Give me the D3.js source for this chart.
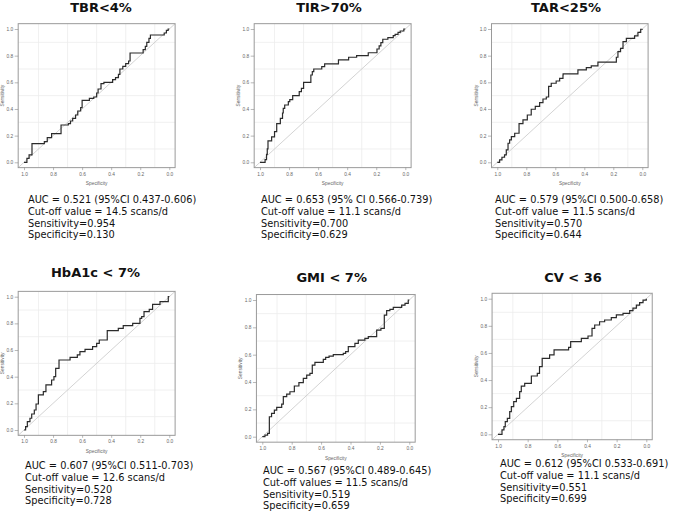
<!DOCTYPE html>
<html>
<head>
<meta charset="utf-8">
<script src="https://cdn.jsdelivr.net/npm/d3@7/dist/d3.min.js"></script>
<style>
  html, body { margin: 0; padding: 0; background: #fff; }
  svg { display: block; }
</style>
</head>
<body>
<svg id="chart" width="673" height="512"></svg>
<script>
// ---------------- DATA ----------------
const panelTitles = ["TBR<4%", "TIR>70%", "TAR<25%", "HbA1c < 7%", "GMI < 7%", "CV < 36"];

const aucLines = [
  "AUC = 0.521 (95%CI 0.437-0.606)",
  "AUC = 0.653 (95% CI 0.566-0.739)",
  "AUC = 0.579 (95%CI 0.500-0.658)",
  "AUC = 0.607 (95%CI 0.511-0.703)",
  "AUC = 0.567 (95%CI 0.489-0.645)",
  "AUC = 0.612 (95%CI 0.533-0.691)"
];
const cutoffLines = [
  "Cut-off value = 14.5 scans/d",
  "Cut-off value = 11.1 scans/d",
  "Cut-off value = 11.5 scans/d",
  "Cut-off value = 12.6 scans/d",
  "Cut-off values = 11.5 scans/d",
  "Cut-off value = 11.1 scans/d"
];
const sensitivityLines = [
  "Sensitivity=0.954", "Sensitivity=0.700", "Sensitivity=0.570",
  "Sensitivity=0.520", "Sensitivity=0.519", "Sensitivity=0.551"
];
const specificityLines = [
  "Specificity=0.130", "Specificity=0.629", "Specificity=0.644",
  "Specificity=0.728", "Specificity=0.659", "Specificity=0.699"
];

const axisTicks = [1.0, 0.8, 0.6, 0.4, 0.2, 0.0];
const xAxisLabel = "Specificity";
const yAxisLabel = "Sensitivity";

// ROC curves: [specificity, sensitivity] – each point is where the curve rises to a new level
const tbrCurve = [
  [1.0,0.0],[0.98,0.03],[0.965,0.055],[0.945,0.14],[0.86,0.155],[0.84,0.185],[0.81,0.215],
  [0.745,0.28],[0.695,0.29],[0.68,0.31],[0.665,0.33],[0.645,0.355],[0.63,0.385],[0.61,0.41],
  [0.60,0.465],[0.55,0.48],[0.52,0.49],[0.50,0.52],[0.49,0.55],[0.47,0.59],[0.45,0.60],
  [0.39,0.62],[0.37,0.635],[0.35,0.66],[0.34,0.70],[0.32,0.72],[0.30,0.74],[0.28,0.76],
  [0.27,0.82],[0.18,0.845],[0.165,0.87],[0.155,0.90],[0.14,0.93],[0.13,0.955],
  [0.035,0.97],[0.02,0.99],[0.008,1.0],[0.0,1.0]
];
const tirCurve = [
  [1.0,0.0],[0.965,0.02],[0.955,0.06],[0.95,0.10],[0.945,0.16],[0.92,0.19],[0.90,0.23],
  [0.885,0.29],[0.86,0.33],[0.845,0.37],[0.84,0.405],[0.83,0.43],[0.805,0.455],[0.795,0.47],
  [0.775,0.50],[0.73,0.53],[0.715,0.555],[0.70,0.60],[0.65,0.655],[0.64,0.68],[0.63,0.70],
  [0.575,0.718],[0.555,0.738],[0.46,0.768],[0.39,0.788],[0.335,0.80],[0.255,0.822],
  [0.195,0.85],[0.18,0.873],[0.168,0.898],[0.155,0.923],[0.12,0.935],[0.083,0.95],
  [0.07,0.96],[0.05,0.975],[0.035,0.985],[0.01,1.0],[0.0,1.0]
];
const tarCurve = [
  [1.0,0.0],[0.984,0.018],[0.968,0.038],[0.95,0.055],[0.938,0.093],[0.926,0.143],
  [0.915,0.168],[0.903,0.193],[0.88,0.218],[0.85,0.29],[0.823,0.318],[0.793,0.355],
  [0.766,0.398],[0.738,0.42],[0.708,0.448],[0.685,0.475],[0.662,0.49],[0.646,0.57],
  [0.628,0.593],[0.594,0.61],[0.57,0.63],[0.547,0.655],[0.546,0.664],[0.444,0.693],
  [0.386,0.71],[0.352,0.723],[0.306,0.752],[0.179,0.788],[0.168,0.83],[0.15,0.855],
  [0.133,0.905],[0.11,0.93],[0.053,0.948],[0.03,0.975],[0.011,0.998],[0.0,1.0]
];
const hba1cCurve = [
  [1.0,0.0],[0.989,0.025],[0.977,0.063],[0.959,0.088],[0.947,0.12],[0.929,0.15],
  [0.917,0.195],[0.901,0.263],[0.867,0.288],[0.849,0.338],[0.81,0.375],[0.794,0.40],
  [0.782,0.463],[0.759,0.525],[0.683,0.545],[0.633,0.563],[0.615,0.588],[0.58,0.605],
  [0.528,0.625],[0.50,0.65],[0.482,0.675],[0.427,0.745],[0.351,0.763],[0.317,0.783],
  [0.252,0.80],[0.202,0.838],[0.19,0.85],[0.174,0.888],[0.138,0.905],[0.115,0.943],
  [0.064,0.963],[0.007,1.0],[0.0,1.0]
];
const gmiCurve = [
  [1.0,0.0],[0.982,0.012],[0.964,0.024],[0.952,0.146],[0.937,0.171],[0.918,0.195],
  [0.902,0.215],[0.868,0.239],[0.857,0.293],[0.834,0.312],[0.812,0.329],[0.782,0.371],
  [0.751,0.395],[0.721,0.427],[0.698,0.451],[0.676,0.463],[0.66,0.524],[0.642,0.544],
  [0.585,0.566],[0.569,0.58],[0.546,0.59],[0.517,0.60],[0.449,0.61],[0.433,0.622],
  [0.415,0.659],[0.37,0.683],[0.347,0.707],[0.302,0.72],[0.279,0.732],[0.222,0.78],
  [0.193,0.793],[0.17,0.89],[0.154,0.922],[0.132,0.932],[0.109,0.946],[0.052,0.963],
  [0.029,0.976],[0.007,1.0],[0.0,1.0]
];
const cvCurve = [
  [1.0,0.0],[0.973,0.032],[0.96,0.057],[0.951,0.093],[0.937,0.118],[0.921,0.167],
  [0.91,0.204],[0.894,0.241],[0.876,0.265],[0.854,0.314],[0.843,0.356],[0.82,0.376],
  [0.775,0.43],[0.735,0.45],[0.72,0.499],[0.702,0.56],[0.652,0.585],[0.622,0.622],
  [0.524,0.641],[0.51,0.683],[0.438,0.708],[0.393,0.725],[0.366,0.781],[0.348,0.806],
  [0.315,0.83],[0.281,0.843],[0.236,0.86],[0.202,0.88],[0.157,0.892],[0.112,0.912],
  [0.09,0.93],[0.067,0.953],[0.045,0.971],[0.022,0.99],[0.0,1.0]
];
const curves = [tbrCurve, tirCurve, tarCurve, hba1cCurve, gmiCurve, cvCurve];

// ---------------- LAYOUT (pixels) ----------------
// x1/x0: pixel of specificity 1.0 / 0.0 ; y1/y0: pixel of sensitivity 1.0 / 0.0
const layout = [
  {x1: 24,    x0: 169.3, y1: 29,    y0: 162.3, tx: 101,   ty: 12,   textX: 28,  textY: 203},
  {x1: 260,   x0: 405.3, y1: 29,    y0: 162.3, tx: 329,   ty: 12,   textX: 261, textY: 203},
  {x1: 497.3, x0: 642.3, y1: 29,    y0: 162.3, tx: 566,   ty: 12,   textX: 495, textY: 203},
  {x1: 24,    x0: 169.3, y1: 296.7, y0: 430,   tx: 95.5,  ty: 277,  textX: 25,  textY: 469},
  {x1: 262.3, x0: 409.3, y1: 300,   y0: 436.7, tx: 331.7, ty: 282,  textX: 263, textY: 474},
  {x1: 498,   x0: 646.3, y1: 298.7, y0: 434.3, tx: 573,   ty: 281.5,textX: 500, textY: 467}
];
const lineStep = 11.8;

// ---------------- DRAW ----------------
const svg = d3.select("#chart");
svg.append("rect").attr("width", 673).attr("height", 512).attr("fill", "#fff");

const fmt = d3.format(".1f");
const gridVals = [0.1, 0.3, 0.5, 0.7, 0.9];

layout.forEach((L, i) => {
  const x = d3.scaleLinear().domain([1, 0]).range([L.x1, L.x0]);
  const y = d3.scaleLinear().domain([0, 1]).range([L.y0, L.y1]);
  const bx0 = x(1.04), bx1 = x(-0.04), by0 = y(-0.04), by1 = y(1.04);

  const g = svg.append("g");

  // grid
  g.selectAll(".gx").data(gridVals).join("line")
    .attr("x1", d => x(d)).attr("x2", d => x(d))
    .attr("y1", by1).attr("y2", by0)
    .attr("stroke", "#ececec").attr("stroke-width", 0.8);
  g.selectAll(".gy").data(gridVals).join("line")
    .attr("y1", d => y(d)).attr("y2", d => y(d))
    .attr("x1", bx0).attr("x2", bx1)
    .attr("stroke", "#ececec").attr("stroke-width", 0.8);

  // diagonal
  g.append("line")
    .attr("x1", x(1.04)).attr("y1", y(-0.04))
    .attr("x2", x(-0.04)).attr("y2", y(1.04))
    .attr("stroke", "#c8c8c8").attr("stroke-width", 0.8);

  // ROC curve
  const line = d3.line().x(d => x(d[0])).y(d => y(d[1])).curve(d3.curveStepAfter);
  g.append("path").datum(curves[i]).attr("d", line)
    .attr("fill", "none").attr("stroke", "#2b2b2b").attr("stroke-width", 1.2);

  // frame
  g.append("rect").attr("x", bx0).attr("y", by1)
    .attr("width", bx1 - bx0).attr("height", by0 - by1)
    .attr("fill", "none").attr("stroke", "#9a9a9a").attr("stroke-width", 1);

  // axes
  const xAxis = d3.axisBottom(x).tickValues(axisTicks).tickFormat(fmt).tickSize(2.5).tickPadding(2);
  const yAxis = d3.axisLeft(y).tickValues(axisTicks).tickFormat(fmt).tickSize(3.5).tickPadding(1.5);
  const gx = g.append("g").attr("transform", `translate(0,${by0})`).call(xAxis);
  const gy = g.append("g").attr("transform", `translate(${bx0},0)`).call(yAxis);
  [gx, gy].forEach(a => {
    a.select(".domain").remove();
    a.selectAll("line").attr("stroke", "#8a8a8a").attr("stroke-width", 0.6);
    a.selectAll("text").attr("fill", "#666").attr("font-size", 4.8)
      .attr("font-family", "'Liberation Sans', Arial, sans-serif");
  });

  g.append("text").attr("x", (bx0 + bx1) / 2).attr("y", by0 + 17.5)
    .attr("text-anchor", "middle").attr("font-size", 4.8).attr("fill", "#666")
    .attr("font-family", "'Liberation Sans', Arial, sans-serif").text(xAxisLabel);
  g.append("text")
    .attr("transform", `translate(${bx0 - 14},${(by0 + by1) / 2}) rotate(-90)`)
    .attr("text-anchor", "middle").attr("font-size", 4.8).attr("fill", "#666")
    .attr("font-family", "'Liberation Sans', Arial, sans-serif").text(yAxisLabel);

  // title
  svg.append("text").attr("x", L.tx).attr("y", L.ty)
    .attr("text-anchor", "middle").attr("font-weight", "bold")
    .attr("font-size", 13).attr("font-family", "'DejaVu Sans', Verdana, sans-serif")
    .attr("fill", "#111").text(panelTitles[i]);

  // stats text
  const lines = [aucLines[i], cutoffLines[i], sensitivityLines[i], specificityLines[i]];
  svg.append("g").selectAll("text").data(lines).join("text")
    .attr("x", L.textX).attr("y", (d, k) => L.textY + k * lineStep)
    .attr("font-size", 9.8).attr("font-family", "'DejaVu Sans', Verdana, sans-serif")
    .attr("fill", "#111").text(d => d);
});
</script>
</body>
</html>
